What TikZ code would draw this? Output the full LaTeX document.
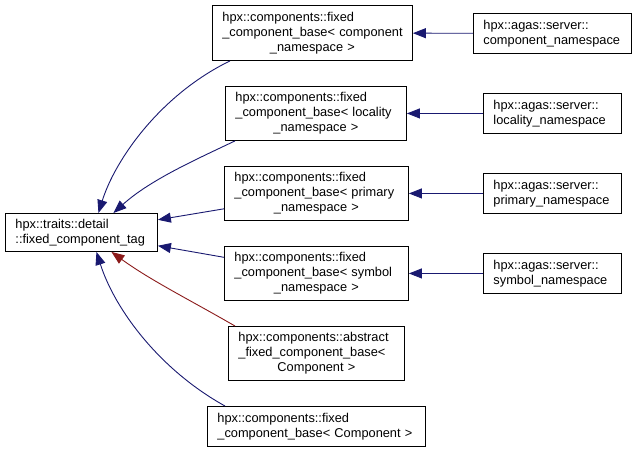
\documentclass[tikz,border=0pt]{standalone}
\usepackage{fontspec}
\setmainfont{Liberation Sans}
\usetikzlibrary{arrows.meta}
\definecolor{edgeblue}{HTML}{191970}
\definecolor{edgered}{HTML}{8B1A1A}
\newcommand{\midline}[1]{\makebox[\linewidth]{#1}}

\begin{document}
\begin{tikzpicture}[
  x=1pt, y=-1pt,
  every node/.style={font=\fontsize{12.8}{15}\selectfont},
  cls/.style={draw=black, line width=0.9pt, anchor=north west, inner xsep=10pt, inner ysep=0pt, align=left},
  inh/.style={-{Triangle[length=13pt,width=10pt]}, line width=0.9pt, color=edgeblue},
  pinh/.style={inh, color=edgered}
]
  \useasboundingbox (0,0) rectangle (639,453);

  % base class
  \node[cls, text width=132pt, minimum height=38pt] (tag) at (5,213) {hpx::traits::detail\\::fixed\_component\_tag};

  % derived classes
  \node[cls, text width=180pt, minimum height=55pt] (c1) at (212,5) {hpx::components::fixed\\\midline{\_component\_base< component}\\\midline{\_namespace >}};
  \node[cls, text width=161pt, minimum height=54pt] (c2) at (225,86) {hpx::components::fixed\\\mbox{\_component\_base< locality}\\\midline{\_namespace >}};
  \node[cls, text width=164pt, minimum height=54pt] (c3) at (224,166) {hpx::components::fixed\\\mbox{\_component\_base< primary}\\\midline{\_namespace >}};
  \node[cls, text width=164pt, minimum height=54pt] (c4) at (224,246) {hpx::components::fixed\\\mbox{\_component\_base< symbol}\\\midline{\_namespace >}};
  \node[cls, text width=156pt, minimum height=54pt] (c5) at (228,326) {hpx::components::abstract\\\_fixed\_component\_base<\\\midline{Component >}};
  \node[cls, text width=198pt, minimum height=40pt] (c6) at (207,406) {hpx::components::fixed\\\mbox{\_component\_base< Component >}};

  % namespaces
  \node[cls, text width=138pt, minimum height=40pt] (r1) at (473,13) {hpx::agas::server::\\component\_namespace};
  \node[cls, text width=118pt, minimum height=40pt] (r2) at (483,93) {hpx::agas::server::\\locality\_namespace};
  \node[cls, text width=118pt, minimum height=40pt] (r3) at (483,173) {hpx::agas::server::\\primary\_namespace};
  \node[cls, text width=118pt, minimum height=40pt] (r4) at (483,253) {hpx::agas::server::\\symbol\_namespace};

  \draw[inh] (r1) -- (c1);
  \draw[inh] (r2) -- (c2);
  \draw[inh] (r3) -- (c3);
  \draw[inh] (r4) -- (c4);

  \draw[inh] ([xshift=18pt]c1.south west) .. controls (160,95) and (115,160) .. ([xshift=17pt]tag.north);
  \draw[inh] ([xshift=10pt]c2.south west) .. controls (195,160) and (150,180) .. ([xshift=32pt]tag.north);
  \draw[inh] (c3) -- (tag);
  \draw[inh] (c4) -- (tag);
  \draw[pinh] ([xshift=7pt]c5.north west) .. controls (190,300) and (150,280) .. ([xshift=30pt]tag.south);
  \draw[inh] ([xshift=18pt]c6.north west) .. controls (160,370) and (115,310) .. ([xshift=15pt]tag.south);
\end{tikzpicture}
\end{document}
